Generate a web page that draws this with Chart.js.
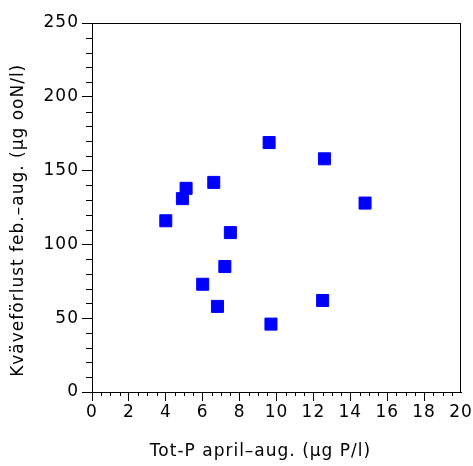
<!DOCTYPE html>
<html>
<head>
<meta charset="utf-8">
<script src="https://cdn.jsdelivr.net/npm/chart.js@4/dist/chart.umd.min.js"></script>
<style>
  html, body { margin: 0; padding: 0; background: #fff; }
  #wrap { width: 473px; height: 466px; }
</style>
</head>
<body>
<div id="wrap"><canvas id="scatterChart"></canvas></div>
<script>
// Tot-P april-aug. (ug P/l)
const totP = [9.6, 12.6, 5.1, 4.9, 6.6, 14.8, 4.0, 7.5, 7.2, 6.0, 6.8, 12.5, 9.7];
// Kvaveforlust feb.-aug.
const nLoss = [169, 158, 138, 131, 142, 128, 116, 108, 85, 73, 58, 62, 46];

const xRange = [0, 20];
const yRange = [0, 250];
const xMajor = 2, xMinor = 0.5;
const yMajor = 50, yMinor = 10;

// the original text is set a little wider than the canvas default
const spacing = {
  id: "spacing",
  beforeDraw(chart) {
    chart.ctx.letterSpacing = "1px";
  }
};

const minorTicks = {
  id: "minorTicks",
  afterDraw(chart) {
    const { ctx, chartArea: a, scales: { x, y } } = chart;
    ctx.save();
    ctx.strokeStyle = "#000";
    ctx.lineWidth = 1;
    ctx.beginPath();
    for (let v = xRange[0]; v <= xRange[1]; v += xMinor) {
      if (v % xMajor === 0) continue;
      const px = Math.round(x.getPixelForValue(v)) + 0.5;
      ctx.moveTo(px, a.bottom);
      ctx.lineTo(px, a.bottom + 4);
    }
    for (let v = yRange[0]; v <= yRange[1]; v += yMinor) {
      if (v % yMajor === 0) continue;
      const py = Math.round(y.getPixelForValue(v)) + 0.5;
      ctx.moveTo(a.left, py);
      ctx.lineTo(a.left - 6, py);
    }
    // top and right frame
    ctx.moveTo(a.left, Math.round(a.top) + 0.5);
    ctx.lineTo(a.right, Math.round(a.top) + 0.5);
    ctx.moveTo(Math.round(a.right) - 0.5, a.top);
    ctx.lineTo(Math.round(a.right) - 0.5, a.bottom);
    ctx.stroke();
    ctx.restore();
  }
};

new Chart(document.getElementById("scatterChart"), {
  type: "scatter",
  data: {
    datasets: [{
      data: totP.map((v, i) => ({ x: v, y: nLoss[i] })),
      pointStyle: "rect",
      pointRadius: 8.5,
      backgroundColor: "#0000ff",
      borderColor: "#0000ff",
      borderWidth: 1
    }]
  },
  options: {
    responsive: true,
    maintainAspectRatio: false,
    animation: false,
    layout: { padding: { left: 0, right: 12, top: 23, bottom: 0 } },
    plugins: { legend: { display: false }, tooltip: { enabled: false } },
    scales: {
      x: {
        type: "linear",
        min: xRange[0],
        max: xRange[1],
        afterFit: (s) => { s.height = 74; },
        border: { display: true, color: "#000", width: 1 },
        grid: {
          drawOnChartArea: false,
          tickLength: 9,
          tickColor: (c) => (c.tick && c.tick.value === xRange[1] ? "rgba(0,0,0,0)" : "#000")
        },
        ticks: {
          stepSize: xMajor,
          padding: 1,
          color: "#000",
          maxRotation: 0,
          font: { family: "DejaVu Sans", size: 17 }
        },
        title: {
          display: true,
          // trailing spaces nudge the title left, as in the original
          text: "Tot-P april\u2013aug. (\u00b5g P/l)     ",
          color: "#000",
          padding: { top: 4, bottom: 4 },
          font: { family: "DejaVu Sans", size: 17 }
        }
      },
      y: {
        type: "linear",
        min: yRange[0],
        max: yRange[1],
        afterFit: (s) => { s.width = 92; },
        border: { display: true, color: "#000", width: 1 },
        grid: { drawOnChartArea: false, tickLength: 10, tickColor: "#000" },
        ticks: {
          stepSize: yMajor,
          padding: 3,
          color: "#000",
          font: { family: "DejaVu Sans", size: 17 }
        },
        title: {
          display: true,
          // trailing spaces nudge the rotated title down
          text: "Kv\u00e4vef\u00f6rlust feb.\u2013aug. (\u00b5g ooN/l)    ",
          color: "#000",
          padding: { top: 8, bottom: 0 },
          font: { family: "DejaVu Sans", size: 17 }
        }
      }
    }
  },
  plugins: [spacing, minorTicks]
});
</script>
</body>
</html>
